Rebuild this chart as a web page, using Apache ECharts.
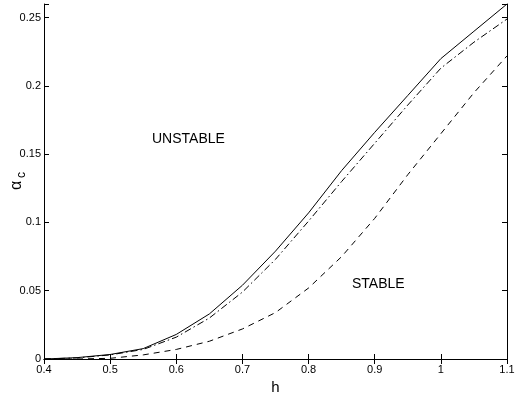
<!DOCTYPE html>
<html>
<head>
<meta charset="utf-8">
<script src="https://cdn.jsdelivr.net/npm/echarts@6/dist/echarts.min.js"></script>
<style>
  html, body { margin: 0; padding: 0; background: #fff; }
  #chart { width: 518px; height: 400px; }
</style>
</head>
<body>
<div id="chart"></div>
<script>
// h values (x axis)
const hValues = [0.4, 0.45, 0.5, 0.55, 0.6, 0.65, 0.7, 0.75, 0.8, 0.85, 0.9, 0.95, 1.0, 1.05, 1.1];
// solid curve
const solidAlpha = [0, 0.001, 0.0033, 0.0076, 0.018, 0.033, 0.054, 0.079, 0.107, 0.138, 0.166, 0.193, 0.22, 0.24, 0.26];
// dash-dot curve
const dashDotAlpha = [0, 0.0008, 0.003, 0.007, 0.016, 0.03, 0.049, 0.073, 0.101, 0.130, 0.158, 0.186, 0.213, 0.232, 0.249];
// dashed curve
const dashedAlpha = [0, 0, 0.0005, 0.003, 0.007, 0.013, 0.022, 0.034, 0.052, 0.075, 0.103, 0.135, 0.165, 0.195, 0.222];

const font = 'Liberation Sans, Arial, Helvetica, sans-serif';
const pairs = ys => hValues.map((x, i) => [x, ys[i]]);
const fmt = v => (Math.abs(v - 0.26) < 1e-6 ? '' : String(+v.toFixed(2)));

const chart = echarts.init(document.getElementById('chart'));

const lineSeries = (data, type) => ({
  type: 'line',
  data: data,
  symbol: 'none',
  lineStyle: { color: '#000', width: 1, type: type },
  animation: false
});

chart.setOption({
  animation: false,
  grid: { left: 44, right: 11, top: 4, bottom: 32 },
  xAxis: [{
    type: 'value', min: 0.4, max: 1.1, interval: 0.1, position: 'bottom',
    name: 'h', nameLocation: 'middle', nameGap: 21,
    nameTextStyle: { color: '#000', fontSize: 15, fontFamily: font },
    axisLine: { lineStyle: { color: '#000', width: 1 } },
    axisTick: { inside: true, length: 5, lineStyle: { color: '#000' } },
    axisLabel: { color: '#000', fontSize: 11, fontFamily: font, margin: 5, formatter: fmt },
    splitLine: { show: false }
  }, {
    type: 'value', min: 0.4, max: 1.1, interval: 0.1, position: 'top',
    axisLine: { lineStyle: { color: '#000', width: 1 } },
    axisTick: { inside: true, length: 5, lineStyle: { color: '#000' } },
    axisLabel: { show: false },
    splitLine: { show: false }
  }],
  yAxis: [{
    type: 'value', min: 0, max: 0.26, interval: 0.05, position: 'left',
    axisLine: { lineStyle: { color: '#000', width: 1 } },
    axisTick: { inside: true, length: 5, lineStyle: { color: '#000' } },
    axisLabel: { color: '#000', fontSize: 11, fontFamily: font, margin: 3, formatter: fmt },
    splitLine: { show: false }
  }, {
    type: 'value', min: 0, max: 0.26, interval: 0.05, position: 'right',
    axisLine: { lineStyle: { color: '#000', width: 1 } },
    axisTick: { inside: true, length: 5, lineStyle: { color: '#000' } },
    axisLabel: { show: false },
    splitLine: { show: false }
  }],
  graphic: [
    { type: 'text', left: 152, top: 132, style: { text: 'UNSTABLE', fontSize: 14, fontFamily: font, fill: '#000' } },
    { type: 'text', left: 352, top: 277, style: { text: 'STABLE', fontSize: 14, fontFamily: font, fill: '#000' } },
    // axis name α_c, rotated
    { type: 'text', x: 9, y: 190, rotation: Math.PI / 2, style: { text: 'α', fontSize: 16, fontFamily: font, fill: '#000' } },
    { type: 'text', x: 16, y: 178, rotation: Math.PI / 2, style: { text: 'c', fontSize: 12, fontFamily: font, fill: '#000' } }
  ],
  series: [
    lineSeries(pairs(solidAlpha), 'solid'),
    lineSeries(pairs(dashDotAlpha), [7, 3, 1.5, 3]),
    lineSeries(pairs(dashedAlpha), [6, 5])
  ]
});
</script>
</body>
</html>
